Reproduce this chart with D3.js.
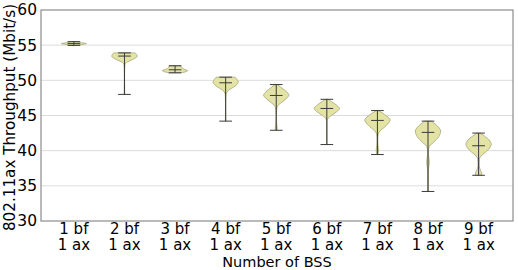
<!DOCTYPE html>
<html>
<head>
<meta charset="utf-8">
<script src="https://cdn.jsdelivr.net/npm/d3@7"></script>
<style>
body { margin: 0; background: #fff; }
text { font-family: "DejaVu Sans", sans-serif; fill: #000; }
</style>
</head>
<body>
<div id="chart"></div>
<script>
// chart data
var categories = ["1 bf|1 ax", "2 bf|1 ax", "3 bf|1 ax", "4 bf|1 ax", "5 bf|1 ax", "6 bf|1 ax", "7 bf|1 ax", "8 bf|1 ax", "9 bf|1 ax"];
var medians = [55.22, 53.45, 51.5, 49.65, 47.85, 46.0, 44.3, 42.6, 40.7];
var mins = [54.97, 48.0, 51.07, 44.2, 42.9, 40.87, 39.45, 34.2, 36.5];
var maxs = [55.5, 53.9, 52.07, 50.45, 49.4, 47.3, 45.7, 44.2, 42.5];
var yTicks = [30, 35, 40, 45, 50, 55, 60];
// violin outline: values (Mbit/s) and relative half widths
var shapeValues = [
  [54.97, 55.1, 55.22, 55.35, 55.5],
  [48.0, 52.0, 52.4, 52.8, 53.1, 53.4, 53.7, 53.9],
  [51.07, 51.2, 51.38, 51.6, 51.85, 52.07],
  [44.2, 47.5, 48.2, 48.6, 49.2, 49.7, 50.1, 50.45],
  [42.9, 43.2, 43.5, 44.0, 45.5, 46.3, 46.9, 47.5, 47.9, 48.4, 48.9, 49.4],
  [40.87, 44.0, 44.5, 45.0, 45.5, 46.0, 46.5, 47.0, 47.3],
  [39.45, 39.8, 40.1, 40.5, 41.5, 42.3, 42.8, 43.4, 44.1, 44.4, 44.9, 45.4, 45.7],
  [34.2, 36.5, 37.5, 38.4, 39.2, 40.0, 40.6, 41.2, 42.0, 42.8, 43.5, 44.0, 44.2],
  [36.5, 36.8, 37.2, 37.7, 38.5, 39.0, 39.5, 40.2, 40.9, 41.5, 42.1, 42.5]
];
var shapeWidths = [
  [0.15, 0.6, 1.0, 0.6, 0.12],
  [0.02, 0.03, 0.08, 0.45, 0.8, 1.0, 0.95, 0.85],
  [0.45, 0.8, 1.0, 0.7, 0.5, 0.45],
  [0.02, 0.02, 0.06, 0.25, 0.75, 1.0, 0.9, 0.75],
  [0.05, 0.08, 0.05, 0.03, 0.03, 0.1, 0.45, 0.85, 1.0, 0.8, 0.45, 0.1],
  [0.02, 0.02, 0.06, 0.35, 0.75, 1.0, 0.75, 0.35, 0.1],
  [0.04, 0.08, 0.1, 0.06, 0.03, 0.06, 0.2, 0.6, 0.95, 1.0, 0.75, 0.35, 0.1],
  [0.03, 0.03, 0.05, 0.1, 0.05, 0.04, 0.1, 0.45, 0.85, 1.0, 0.75, 0.4, 0.25],
  [0.25, 0.25, 0.15, 0.06, 0.05, 0.1, 0.35, 0.8, 1.0, 0.85, 0.45, 0.15]
];

var W = 518, H = 270;
var margin = {top: 10, right: 5, bottom: 49, left: 41};
var width = W - margin.left - margin.right,
    height = H - margin.top - margin.bottom;

var svg = d3.select("#chart").append("svg")
    .attr("width", W)
    .attr("height", H)
  .append("g")
    .attr("transform", "translate(" + margin.left + "," + margin.top + ")");

var x = d3.scaleLinear().domain([0.35, 9.68]).range([0, width]);
var y = d3.scaleLinear().domain([30, 60]).range([height, 0]);

var violinHalf = 0.25;   // widths=0.5
var capHalf = 0.125;

// grid
svg.append("g").selectAll("line")
  .data(yTicks.slice(1, -1))
  .enter().append("line")
    .attr("x1", 0).attr("x2", width)
    .attr("y1", function(d) { return y(d); })
    .attr("y2", function(d) { return y(d); })
    .attr("stroke", "#dcdcdc")
    .attr("stroke-width", 1);

// violins
var area = d3.area()
    .curve(d3.curveCatmullRom)
    .y(function(d) { return y(d.v); })
    .x0(function(d) { return x(d.pos - d.w * violinHalf); })
    .x1(function(d) { return x(d.pos + d.w * violinHalf); });

var violins = svg.append("g");
categories.forEach(function(c, i) {
  var pts = shapeValues[i].map(function(v, j) { return {v: v, w: shapeWidths[i][j], pos: i + 1}; });
  violins.append("path")
    .attr("d", area(pts))
    .attr("fill", "#e3e3a5")
    .attr("stroke", "#a6a67a")
    .attr("stroke-width", 0.8);
});

// whiskers, caps and medians
var lines = svg.append("g").attr("stroke", "#3a3a3a").attr("stroke-width", 1);
categories.forEach(function(c, i) {
  var p = i + 1;
  lines.append("line")
    .attr("x1", x(p)).attr("x2", x(p))
    .attr("y1", y(mins[i])).attr("y2", y(maxs[i]));
  [mins[i], maxs[i], medians[i]].forEach(function(v) {
    lines.append("line")
      .attr("x1", x(p - capHalf)).attr("x2", x(p + capHalf))
      .attr("y1", y(v)).attr("y2", y(v));
  });
});

// frame
svg.append("rect")
  .attr("width", width).attr("height", height)
  .attr("fill", "none")
  .attr("stroke", "#8c8c8c")
  .attr("stroke-width", 1.2);

// y ticks
var yAxis = svg.append("g")
  .call(d3.axisLeft(y).tickValues(yTicks).tickSize(0).tickPadding(4));
yAxis.select(".domain").remove();
yAxis.selectAll("text").style("font-size", "15.5px").attr("fill", "#000");

// x ticks, two lines each
var xl = svg.append("g").attr("transform", "translate(0," + height + ")");
categories.forEach(function(c, i) {
  var parts = c.split("|");
  var t = xl.append("text")
    .attr("x", x(i + 1))
    .attr("text-anchor", "middle")
    .style("font-size", "15px");
  t.append("tspan").attr("x", x(i + 1)).attr("y", 12.5).text(parts[0]);
  t.append("tspan").attr("x", x(i + 1)).attr("y", 29).text(parts[1]);
});

// axis labels
svg.append("text")
  .attr("x", width / 2)
  .attr("y", H - margin.top - 3)
  .attr("text-anchor", "middle")
  .style("font-size", "14.5px")
  .text("Number of BSS");

svg.append("text")
  .attr("transform", "translate(" + (-margin.left + 15) + "," + (height / 2 + 2) + ") rotate(-90)")
  .attr("text-anchor", "middle")
  .style("font-size", "15.2px")
  .text("802.11ax Throughput (Mbit/s)");
</script>
</body>
</html>
